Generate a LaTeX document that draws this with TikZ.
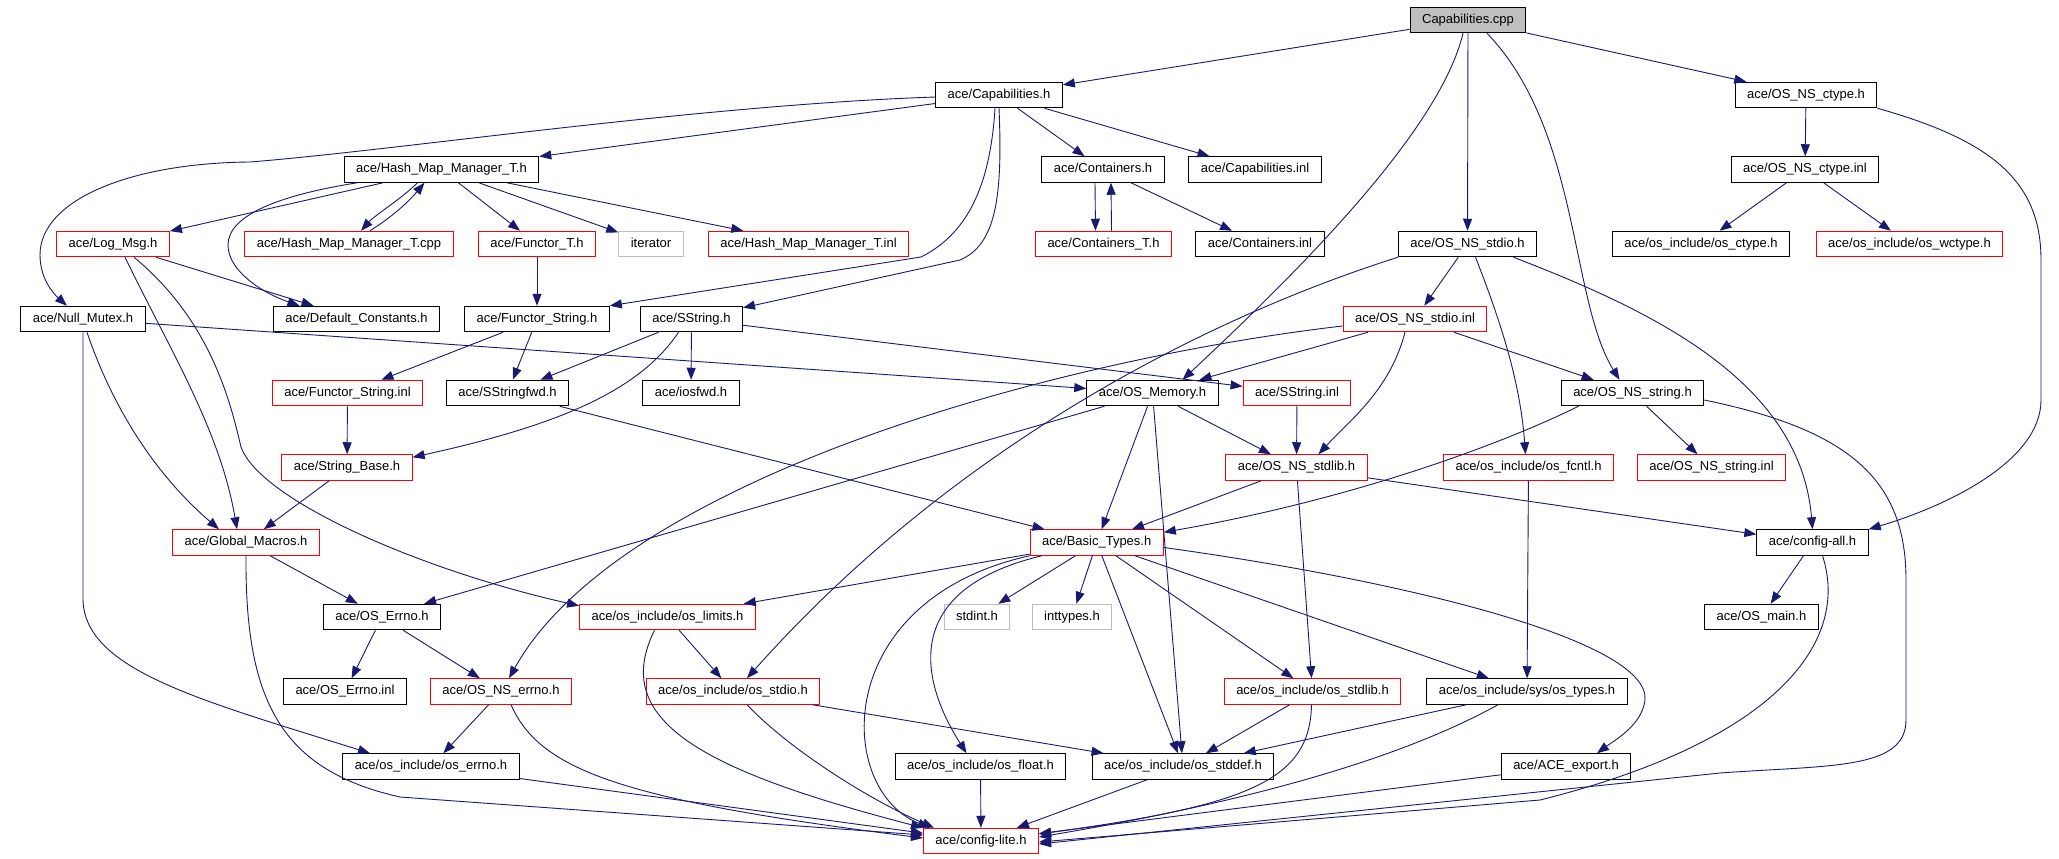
\documentclass[tikz,border=0pt]{standalone}
\usepackage{fontspec}
\setmainfont{Liberation Sans}
\usetikzlibrary{arrows.meta}
\definecolor{edgeblue}{RGB}{25,25,112}
\definecolor{sysgray}{RGB}{191,191,191}
\begin{document}
\begin{tikzpicture}[x=1pt,y=-1pt,
file/.style={draw=black, line width=1pt, inner xsep=12pt, inner ysep=0pt, minimum height=25.5pt, text height=9.5pt, text depth=2.8pt, font=\fontsize{13}{15}\selectfont},
redfile/.style={file, draw=red},
sysfile/.style={file, draw=sysgray},
inc/.style={draw=edgeblue, line width=0.9pt, -{Triangle[length=12pt,width=9pt]}}]
\fill[white] (0,0) rectangle (2059,859);
\useasboundingbox (0,0) rectangle (2059,859);
\node[file, fill=sysgray] (f0) at (1468,20){Capabilities.cpp};
\node[file] (f1) at (999,95){ace/Capabilities.h};
\node[file] (f2) at (1806,95){ace/OS\_NS\_ctype.h};
\node[file] (f3) at (441.5,169.5){ace/Hash\_Map\_Manager\_T.h};
\node[file] (f4) at (1103,169.5){ace/Containers.h};
\node[file] (f5) at (1255,169.5){ace/Capabilities.inl};
\node[file] (f6) at (1805,169.5){ace/OS\_NS\_ctype.inl};
\node[redfile] (f7) at (113,244){ace/Log\_Msg.h};
\node[redfile] (f8) at (349,244){ace/Hash\_Map\_Manager\_T.cpp};
\node[redfile] (f9) at (537,244){ace/Functor\_T.h};
\node[sysfile] (f10) at (651,244){iterator};
\node[redfile] (f11) at (808.5,244){ace/Hash\_Map\_Manager\_T.inl};
\node[redfile] (f12) at (1103.5,244){ace/Containers\_T.h};
\node[file] (f13) at (1260,244){ace/Containers.inl};
\node[file] (f14) at (1467.5,244){ace/OS\_NS\_stdio.h};
\node[file] (f15) at (1701,244){ace/os\_include/os\_ctype.h};
\node[redfile] (f16) at (1909.5,244){ace/os\_include/os\_wctype.h};
\node[file] (f17) at (83,319){ace/Null\_Mutex.h};
\node[file] (f18) at (356.5,319){ace/Default\_Constants.h};
\node[file] (f19) at (537,319){ace/Functor\_String.h};
\node[file] (f20) at (691.5,319){ace/SString.h};
\node[redfile] (f21) at (1415,319){ace/OS\_NS\_stdio.inl};
\node[redfile] (f22) at (347.5,393){ace/Functor\_String.inl};
\node[file] (f23) at (507.5,393){ace/SStringfwd.h};
\node[file] (f24) at (691,393){ace/iosfwd.h};
\node[file] (f25) at (1152.5,393){ace/OS\_Memory.h};
\node[redfile] (f26) at (1297,393){ace/SString.inl};
\node[file] (f27) at (1632.5,393){ace/OS\_NS\_string.h};
\node[redfile] (f28) at (347,467.5){ace/String\_Base.h};
\node[redfile] (f29) at (1296.5,467.5){ace/OS\_NS\_stdlib.h};
\node[redfile] (f30) at (1528.5,467.5){ace/os\_include/os\_fcntl.h};
\node[redfile] (f31) at (1711.5,467.5){ace/OS\_NS\_string.inl};
\node[redfile] (f32) at (246,542.5){ace/Global\_Macros.h};
\node[redfile] (f33) at (1096.75,542.5){ace/Basic\_Types.h};
\node[file] (f34) at (1812.5,542.5){ace/config-all.h};
\node[file] (f35) at (382,617){ace/OS\_Errno.h};
\node[redfile] (f36) at (667.5,617){ace/os\_include/os\_limits.h};
\node[sysfile] (f37) at (977,617){stdint.h};
\node[sysfile] (f38) at (1072,617){inttypes.h};
\node[file] (f39) at (1761.5,617){ace/OS\_main.h};
\node[file] (f40) at (345,691.5){ace/OS\_Errno.inl};
\node[redfile] (f41) at (501,691.5){ace/OS\_NS\_errno.h};
\node[redfile] (f42) at (733,691.5){ace/os\_include/os\_stdio.h};
\node[redfile] (f43) at (1312.5,691.5){ace/os\_include/os\_stdlib.h};
\node[file] (f44) at (1527,691.5){ace/os\_include/sys/os\_types.h};
\node[file] (f45) at (431,766.5){ace/os\_include/os\_errno.h};
\node[file] (f46) at (980.5,766.5){ace/os\_include/os\_float.h};
\node[file] (f47) at (1183,766.5){ace/os\_include/os\_stddef.h};
\node[file] (f48) at (1566,766.5){ace/ACE\_export.h};
\node[redfile] (f49) at (981,841){ace/config-lite.h};
\draw[inc](f0) -- (f1);
\draw[inc](f0) -- (f2);
\draw[inc](f0) -- (f14);
\draw[inc]([xshift=-5pt]f0.south) .. controls (1440,130) and (1300,270) .. ([xshift=30pt]f25.north);
\draw[inc]([xshift=19pt]f0.south) .. controls (1580,130) and (1570,300) .. ([xshift=-13pt]f27.north);
\draw[inc](f1) -- (f3);
\draw[inc]([yshift=-2pt]f1.west) .. controls (700,105) and (400,150) .. (250,162) .. controls (130,163) and (40,200) .. (40,255) .. controls (40,280) and (55,295) .. ([xshift=-16pt]f17.north);
\draw[inc](f1) -- (f4);
\draw[inc](f1) -- (f5);
\draw[inc]([xshift=-4pt]f1.south) .. controls (990,190) and (965,235) .. (921,257) -- (f19.north east);
\draw[inc](f1.south) .. controls (1003,200) and (995,245) .. (960,260) -- ([yshift=-2pt]f20.north east);
\draw[inc](f2) -- (f6);
\draw[inc](f2.south east) .. controls (1990,140) and (2041,180) .. (2041,260) -- (2041,400) .. controls (2041,460) and (1950,505) .. (f34.north east);
\draw[inc](f3) -- (f7);
\draw[inc]([xshift=-24pt]f3.south) .. controls (400,200) and (375,215) .. ([xshift=12pt]f8.north);
\draw[inc]([xshift=21pt]f8.north) .. controls (395,215) and (410,200) .. ([xshift=-17pt]f3.south);
\draw[inc](f3) -- (f9);
\draw[inc](f3) -- (f10);
\draw[inc](f3) -- (f11);
\draw[inc]([xshift=-84pt]f3.south) .. controls (280,195) and (228,215) .. (228,245) .. controls (228,270) and (260,292) .. ([xshift=-57pt]f18.north);
\draw[inc]([xshift=-8pt]f4.south) -- ([xshift=-8pt]f12.north);
\draw[inc]([xshift=8pt]f12.north) -- ([xshift=8pt]f4.south);
\draw[inc](f4) -- (f13);
\draw[inc](f6) -- (f15);
\draw[inc](f6) -- (f16);
\draw[inc](f7) -- (f18);
\draw[inc]([xshift=12pt]f7.south) .. controls (170,350) and (220,430) .. ([xshift=-9pt]f32.north);
\draw[inc]([xshift=21pt]f7.south) .. controls (210,320) and (230,400) .. (241,447) .. controls (260,500) and (420,570) .. ([yshift=-2pt]f36.north west);
\draw[inc](f9) -- (f19);
\draw[inc](f17) -- (f25);
\draw[inc]([xshift=4pt]f17.south) .. controls (110,400) and (150,470) .. ([xshift=-27pt]f32.north);
\draw[inc](f17.south) -- (83,600) .. controls (85,670) and (200,700) .. ([xshift=-61pt]f45.north);
\draw[inc](f19) -- (f22);
\draw[inc](f19) -- (f23);
\draw[inc](f20) -- (f23);
\draw[inc](f20) -- (f24);
\draw[inc]([xshift=-13pt]f20.south) .. controls (640,390) and (560,425) .. ([yshift=-3pt]f28.north east);
\draw[inc](f20) -- (f26);
\draw[inc](f23) -- (f33);
\draw[inc](f22) -- (f28);
\draw[inc](f28) -- (f32);
\draw[inc](f32) -- (f35);
\draw[inc](f32.south) .. controls (245,700) and (280,770) .. (400,797) -- ([yshift=6pt]f49.west);
\draw[inc](f35) -- (f40);
\draw[inc](f35) -- (f41);
\draw[inc](f41) -- (f45);
\draw[inc]([xshift=10pt]f41.south) .. controls (540,770) and (620,800) .. ([yshift=3pt]f49.west);
\draw[inc](f45) -- (f49);
\draw[inc](f14) -- (f21);
\draw[inc]([xshift=8pt]f14.south) .. controls (1500,320) and (1520,380) .. ([xshift=-3pt]f30.north);
\draw[inc]([xshift=46pt]f14.south) .. controls (1650,310) and (1800,380) .. (f34.north);
\draw[inc](f14.south west) .. controls (1200,320) and (950,450) .. ([xshift=14pt]f42.north);
\draw[inc](f21) -- (f25);
\draw[inc]([xshift=-10pt]f21.south) .. controls (1390,390) and (1350,420) .. ([xshift=22pt]f29.north);
\draw[inc](f21) -- (f27);
\draw[inc]([yshift=-7pt]f21.west) .. controls (1050,360) and (620,480) .. ([xshift=8pt]f41.north);
\draw[inc](f25) -- (f29);
\draw[inc](f25) -- (f33);
\draw[inc](f25) -- (f47);
\draw[inc]([xshift=-48pt]f25.south) -- ([xshift=-17pt]f35.north east);
\draw[inc](f26) -- (f29);
\draw[inc]([xshift=-54pt]f27.south) .. controls (1500,445) and (1350,500) .. ([yshift=-3pt]f33.north east);
\draw[inc](f27) -- (f31);
\draw[inc]([yshift=-7pt]f27.east) .. controls (1850,430) and (1906,480) .. (1906,580) -- (1906,720) .. controls (1906,770) and (1830,765) .. (1720,773) -- ([yshift=-3pt]f49.east);
\draw[inc](f29) -- (f33);
\draw[inc](f29) -- (f43);
\draw[inc](f29) -- (f34);
\draw[inc](f30) -- (f44);
\draw[inc](f34) -- (f39);
\draw[inc]([xshift=10pt]f34.south) .. controls (1850,640) and (1780,740) .. (1540,800) -- ([yshift=-1pt]f49.east);
\draw[inc](f33) -- (f36);
\draw[inc](f33) -- (f37);
\draw[inc](f33) -- (f38);
\draw[inc](f33) -- (f47);
\draw[inc](f33) -- (f43);
\draw[inc](f33) -- (f44);
\draw[inc]([yshift=-5pt]f33.east) .. controls (1400,580) and (1650,640) .. (1645,700) .. controls (1642,725) and (1615,740) .. ([xshift=31pt]f48.north);
\draw[inc]([xshift=-55pt]f33.south) .. controls (900,590) and (920,680) .. ([xshift=-14pt]f46.north);
\draw[inc](f33.south west) .. controls (830,600) and (835,790) .. ([xshift=-51pt]f49.north);
\draw[inc](f36) -- (f42);
\draw[inc]([xshift=-13pt]f36.south) .. controls (610,720) and (700,770) .. (f49.north west);
\draw[inc](f42) -- (f47);
\draw[inc]([xshift=14pt]f42.south) .. controls (790,750) and (870,800) .. ([xshift=-47pt]f49.north);
\draw[inc](f43) -- (f47);
\draw[inc]([xshift=-1pt]f43.south) .. controls (1310,780) and (1250,805) .. ([yshift=7pt]f49.east);
\draw[inc](f44) -- (f47);
\draw[inc]([xshift=-29pt]f44.south) .. controls (1380,770) and (1200,810) .. ([yshift=4pt]f49.east);
\draw[inc](f46) -- (f49);
\draw[inc](f47) -- (f49);
\draw[inc](f48) -- (f49);
\end{tikzpicture}
\end{document}
